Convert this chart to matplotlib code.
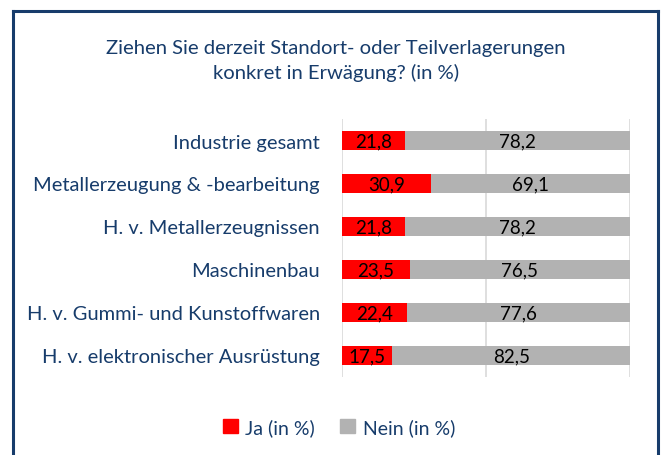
import matplotlib
matplotlib.use("Agg")
import matplotlib.pyplot as plt
from matplotlib.patches import Rectangle
from matplotlib.lines import Line2D

categories = ["Industrie gesamt", "Metallerzeugung & -bearbeitung", "H. v. Metallerzeugnissen",
              "Maschinenbau", "H. v. Gummi- und Kunstoffwaren", "H. v. elektronischer Ausrüstung"]
ja = [21.8, 30.9, 21.8, 23.5, 22.4, 17.5]
nein = [78.2, 69.1, 78.2, 76.5, 77.6, 82.5]
series_names = ["Ja (in %)", "Nein (in %)"]
title = "Ziehen Sie derzeit Standort- oder Teilverlagerungen\nkonkret in Erwägung? (in %)"

W, H = 664, 456
navy = "#173C6B"
red = "#FF0000"
gray = "#B2B2B2"
font = "Lato"

fig = plt.figure(figsize=(W / 100, H / 100), dpi=100)
ax = fig.add_axes([342 / W, 1 - 378 / H, (630 - 342) / W, (378 - 120) / H])

y = list(range(len(categories)))
ax.barh(y, ja, height=0.44, color=red, zorder=3)
ax.barh(y, nein, left=ja, height=0.44, color=gray, zorder=3)
for i in y:
    ax.text(ja[i] / 2, i, f"{ja[i]:.1f}".replace(".", ","), ha="center", va="center",
            fontsize=13.5, family=font, color="black", zorder=4)
    ax.text(ja[i] + nein[i] / 2, i, f"{nein[i]:.1f}".replace(".", ","), ha="center", va="center",
            fontsize=13.5, family=font, color="black", zorder=4)

ax.set_xlim(0, 100)
ax.set_ylim(len(categories) - 0.5, -0.5)
ax.set_xticks([0, 50, 100])
ax.grid(axis="x", color="#D9D9D9", linewidth=1.2, zorder=0)
ax.tick_params(axis="x", length=0, labelbottom=False)
ax.tick_params(axis="y", length=0, pad=16)
ax.set_yticks(y)
ax.set_yticklabels(categories, fontsize=14.5, family=font, color=navy)
for s in ax.spines.values():
    s.set_visible(False)

fig.text(336 / W, 1 - 61 / H, title, ha="center", va="center", fontsize=14.6,
         family=font, color=navy, linespacing=1.5)

# frame
fig.add_artist(Line2D([13 / W, 13 / W], [0, 1 - 12 / H], color=navy, linewidth=2.2))
fig.add_artist(Line2D([13 / W, 658 / W], [1 - 12 / H, 1 - 12 / H], color=navy, linewidth=2.2))
fig.add_artist(Line2D([658 / W, 658 / W], [0, 1 - 12 / H], color=navy, linewidth=2.2))

handles = [Rectangle((0, 0), 1, 1, color=red), Rectangle((0, 0), 1, 1, color=gray)]
fig.legend(handles, series_names, loc="center", bbox_to_anchor=(339 / W, 1 - 428 / H), ncol=2,
           frameon=False, prop={"family": font, "size": 14}, labelcolor=navy,
           handlelength=0.75, handleheight=0.75, handletextpad=0.4, columnspacing=1.3)

fig.savefig("out.png", dpi=100)
